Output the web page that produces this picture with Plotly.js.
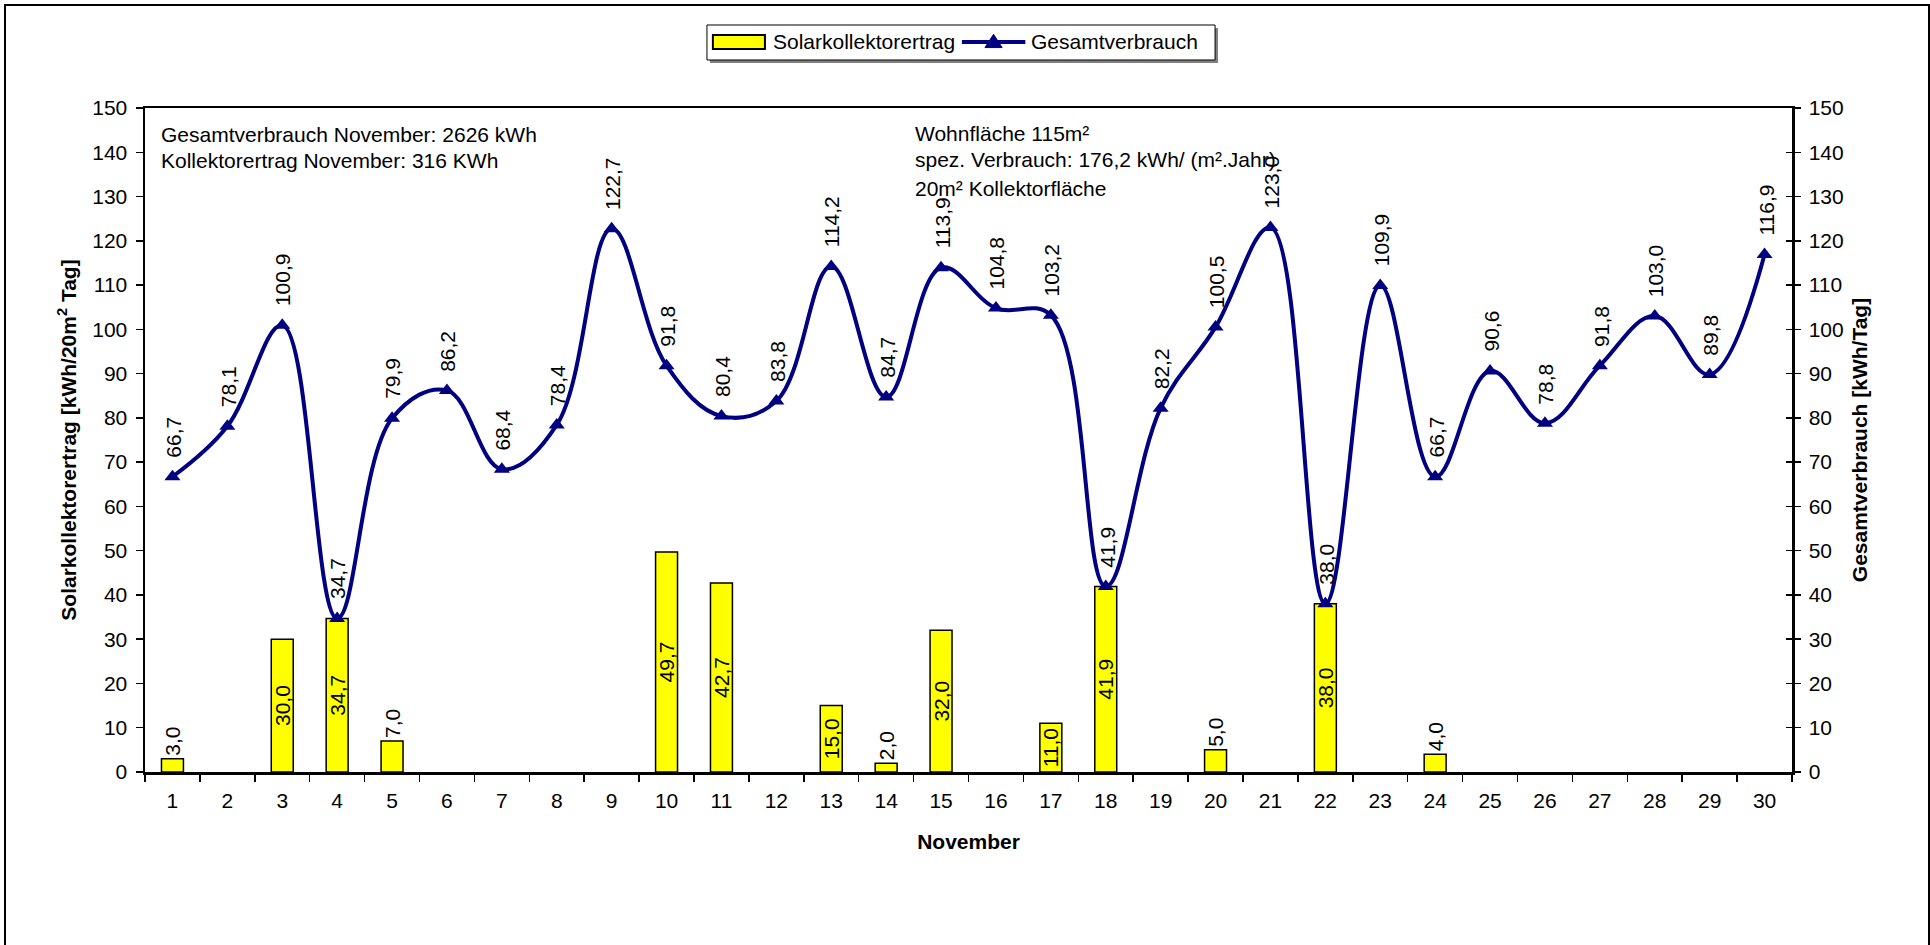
<!DOCTYPE html>
<html>
<head>
<meta charset="utf-8">
<script src="https://cdn.plot.ly/plotly-3.0.1.min.js"></script>
<style>
  html, body { margin: 0; padding: 0; background: #fff; }
  #wrap { position: relative; width: 1930px; height: 945px; overflow: hidden; }
  #chart { position: absolute; left: 0; top: 0; width: 1930px; height: 945px; }
  #frame { position: absolute; left: 4px; top: 4px; width: 1922px; height: 960px; border: 2px solid #000; pointer-events: none; }
</style>
</head>
<body>
<div id="wrap">
  <div id="chart"></div>
  <div id="frame"></div>
</div>
<script>
// Days of November (categories)
const days = ["1","2","3","4","5","6","7","8","9","10","11","12","13","14","15","16","17","18","19","20","21","22","23","24","25","26","27","28","29","30"];
// Solar collector yield [kWh/20m² day] (null = no yield)
const solarYield = [3.0, null, 30.0, 34.7, 7.0, null, null, null, null, 49.7, 42.7, null, 15.0, 2.0, 32.0, null, 11.0, 41.9, null, 5.0, null, 38.0, null, 4.0, null, null, null, null, null, null];
// Total consumption [kWh/day]
const totalConsumption = [66.7, 78.1, 100.9, 34.7, 79.9, 86.2, 68.4, 78.4, 122.7, 91.8, 80.4, 83.8, 114.2, 84.7, 113.9, 104.8, 103.2, 41.9, 82.2, 100.5, 123.0, 38.0, 109.9, 66.7, 90.6, 78.8, 91.8, 103.0, 89.8, 116.9];
// Axis ticks
const yTicks = [0,10,20,30,40,50,60,70,80,90,100,110,120,130,140,150];
// Texts
const seriesNames = ["Solarkollektorertrag", "Gesamtverbrauch"];
const infoLeft = ["Gesamtverbrauch November: 2626 kWh", "Kollektorertrag November: 316 KWh"];
const infoRight = ["Wohnfläche 115m²", "spez. Verbrauch: 176,2 kWh/ (m².Jahr)", "20m² Kollektorfläche"];
const xTitle = "November";
const yTitleLeft = "Solarkollektorertrag [kWh/20m<sup>2</sup> Tag]";
const yTitleRight = "Gesamtverbrauch [kWh/Tag]";

const fmt = v => (v === null ? "" : v.toFixed(1).replace(".", ","));
const FONT = "Liberation Sans, Arial, sans-serif";
const FS = 21;
const NAVY = "#000080";

const barTrace = {
  type: "bar",
  name: seriesNames[0],
  x: days,
  y: solarYield,
  width: 0.40,
  marker: { color: "#FFFF00", line: { color: "#000000", width: 1.5 } },
  text: solarYield.map(fmt),
  textposition: solarYield.map(v => (v !== null && v >= 10 ? "inside" : "outside")),
  textangle: -90,
  insidetextanchor: "middle",
  constraintext: "none",
  textfont: { family: FONT, size: FS, color: "#000" },
  cliponaxis: false,
  showlegend: false
};

const lineTrace = {
  type: "scatter",
  mode: "lines+markers",
  name: seriesNames[1],
  x: days,
  y: totalConsumption,
  yaxis: "y2",
  line: { color: NAVY, width: 4, shape: "spline", smoothing: 1.1 },
  marker: { symbol: "triangle-up", size: 14, color: NAVY },
  cliponaxis: false,
  showlegend: false
};

const annotations = [];
// Rotated data labels of the consumption line
totalConsumption.forEach((v, i) => {
  annotations.push({
    x: i, y: v, xref: "x", yref: "y2",
    text: fmt(v), textangle: -90, showarrow: false,
    xanchor: "center", yanchor: "bottom", yshift: 17, xshift: 1,
    font: { family: FONT, size: FS, color: "#000" }
  });
});
const leftYs = [0.9608, 0.9202];
infoLeft.forEach((t, i) => annotations.push({
  xref: "paper", yref: "paper", x: 0.0085, y: leftYs[i], xanchor: "left", yanchor: "middle",
  text: t, showarrow: false, font: { family: FONT, size: FS, color: "#000" }
}));
const rightYs = [0.9623, 0.9217, 0.8795];
infoRight.forEach((t, i) => annotations.push({
  xref: "paper", yref: "paper", x: 0.4660, y: rightYs[i], xanchor: "left", yanchor: "middle",
  text: t, showarrow: false, font: { family: FONT, size: FS, color: "#000" }
}));
// Custom legend texts
annotations.push({
  xref: "paper", yref: "paper", x: 0.3800, y: 1.0994, xanchor: "left", yanchor: "middle",
  text: seriesNames[0], showarrow: false, font: { family: FONT, size: FS, color: "#000" }
});
annotations.push({
  xref: "paper", yref: "paper", x: 0.5370, y: 1.0994, xanchor: "left", yanchor: "middle",
  text: seriesNames[1], showarrow: false, font: { family: FONT, size: FS, color: "#000" }
});

// Custom legend graphics (paper coordinates)
const triCx = 0.5152, triCy = 1.0994, triW = 0.0052, triH = 0.0105;
const shapes = [
  { type: "rect", xref: "paper", yref: "paper", x0: 0.3430, x1: 0.6515, y0: 1.0678, y1: 1.1205,
    fillcolor: "#808080", line: { width: 0 }, layer: "above" },
  { type: "rect", xref: "paper", yref: "paper", x0: 0.3412, x1: 0.6497, y0: 1.0723, y1: 1.1250,
    fillcolor: "#ffffff", line: { color: "#000", width: 1 }, layer: "above" },
  { type: "rect", xref: "paper", yref: "paper", x0: 0.3448, x1: 0.3764, y0: 1.0889, y1: 1.1099,
    fillcolor: "#FFFF00", line: { color: "#000", width: 2 }, layer: "above" },
  { type: "line", xref: "paper", yref: "paper", x0: 0.4960, x1: 0.5345, y0: 1.0994, y1: 1.0994,
    line: { color: NAVY, width: 4 }, layer: "above" },
  { type: "path", xref: "paper", yref: "paper", layer: "above",
    path: `M ${triCx - triW},${triCy - triH * 0.8} L ${triCx + triW},${triCy - triH * 0.8} L ${triCx},${triCy + triH * 1.1} Z`,
    fillcolor: NAVY, line: { color: NAVY, width: 1 } }
];

const axisCommon = {
  range: [0, 150],
  tickvals: yTicks,
  ticktext: yTicks.map(String),
  ticks: "outside",
  ticklen: 7,
  tickwidth: 1.5,
  tickcolor: "#000",
  showgrid: false,
  zeroline: false,
  showline: true,
  linecolor: "#000",
  linewidth: 2.5,
  tickfont: { family: FONT, size: FS, color: "#000" },
  ticklabelstandoff: 4,
  fixedrange: true
};

const layout = {
  width: 1930, height: 945,
  margin: { l: 145, r: 138, t: 108, b: 173, autoexpand: false },
  paper_bgcolor: "#fff", plot_bgcolor: "#fff",
  font: { family: FONT, size: FS, color: "#000" },
  showlegend: false,
  xaxis: {
    type: "category",
    range: [-0.5, 29.5],
    tickson: "boundaries",
    ticks: "outside", ticklen: 7, tickwidth: 1.5, tickcolor: "#000",
    showline: true, linecolor: "#000", linewidth: 2.5, mirror: true,
    showgrid: false, zeroline: false,
    tickfont: { family: FONT, size: FS, color: "#000" },
    ticklabelstandoff: 8,
    title: { text: xTitle, font: { family: FONT, size: FS, color: "#000", weight: "bold" }, standoff: 24 },
    fixedrange: true
  },
  yaxis: Object.assign({}, axisCommon, {
    title: { text: yTitleLeft, font: { family: FONT, size: FS, color: "#000", weight: "bold" }, standoff: 10 }
  }),
  yaxis2: Object.assign({}, axisCommon, {
    overlaying: "y", side: "right", ticklen: 6,
    title: { text: yTitleRight, font: { family: FONT, size: FS, color: "#000", weight: "bold" }, standoff: 10 }
  }),
  yaxis3: {
    overlaying: "y", side: "right", range: [0, 150], tickvals: yTicks,
    ticks: "inside", ticklen: 6, tickwidth: 1.5, tickcolor: "#000",
    showticklabels: false, showline: false, showgrid: false, zeroline: false, fixedrange: true
  },
  annotations: annotations,
  shapes: shapes
};

// invisible helper trace so the inside-tick axis is drawn
const tickHelper = { type: "scatter", mode: "none", x: [days[0]], y: [0], yaxis: "y3", hoverinfo: "skip", showlegend: false };

Plotly.newPlot("chart", [barTrace, lineTrace, tickHelper], layout, { displayModeBar: false, staticPlot: true });
</script>
</body>
</html>
